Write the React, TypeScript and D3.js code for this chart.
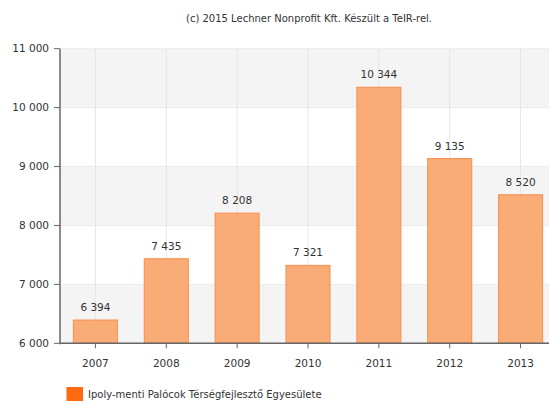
import React from "react";
import * as d3 from "d3";

const years = ["2007", "2008", "2009", "2010", "2011", "2012", "2013"];
const values = [6394, 7435, 8208, 7321, 10344, 9135, 8520];
const yTicks = [6000, 7000, 8000, 9000, 10000, 11000];
const seriesName = "Ipoly-menti Palócok Térségfejlesztő Egyesülete";
const credit = "(c) 2015 Lechner Nonprofit Kft. Készült a TeIR-rel.";

const W = 549;
const H = 401;
const left = 60;
const right = 556;
const top = 48.7;
const bottom = 343.3;
const font = "'DejaVu Sans', Verdana, sans-serif";

const fmt = (v: number) => d3.format(",")(v).replace(/,/g, " ");

export default function App() {
  const x = d3.scaleBand<string>().domain(years).range([left, right]).paddingInner(0.38).paddingOuter(0.19);
  const xc = d3.scalePoint<string>().domain(years).range([left, right]).padding(0.5);
  const y = d3.scaleLinear().domain([6000, 11000]).range([bottom, top]);

  const bands = yTicks.slice(0, -1).map((t, i) => ({ from: t, to: yTicks[i + 1], gray: i % 2 === 0 }));

  return (
    <svg width={W} height={H} style={{ position: "absolute", left: 0, top: 0, background: "#fff" }}>
      <text x={309} y={18.5} dy="0.35em" textAnchor="middle" fontFamily={font} fontSize={10} fill="#333">
        {credit}
      </text>
      {bands.map((b, i) => (
        <rect key={i} x={left} y={y(b.to)} width={right - left} height={y(b.from) - y(b.to)} fill={b.gray ? "#f4f4f4" : "#ffffff"} />
      ))}
      {yTicks.map((t) => (
        <line key={t} x1={left} x2={right} y1={y(t)} y2={y(t)} stroke="#ebebeb" strokeWidth={1} />
      ))}
      {years.map((yr) => (
        <line key={yr} x1={xc(yr)} x2={xc(yr)} y1={top} y2={bottom} stroke="#e6e6e6" strokeWidth={1} />
      ))}
      {years.map((yr, i) => (
        <g key={yr}>
          <rect
            x={x(yr)}
            y={y(values[i])}
            width={x.bandwidth()}
            height={bottom - y(values[i])}
            fill="#f9a86f"
            fillOpacity={0.95}
            stroke="#f7955a"
            strokeWidth={1.2}
          />
          <text x={xc(yr)} y={y(values[i]) - 9} textAnchor="middle" fontFamily={font} fontSize={10.5} fill="#333">
            {fmt(values[i])}
          </text>
        </g>
      ))}
      <line x1={left} x2={left} y1={top} y2={bottom + 1} stroke="#666" strokeWidth={1.5} />
      <line x1={left} x2={right} y1={bottom} y2={bottom} stroke="#666" strokeWidth={1.5} />
      {yTicks.map((t) => (
        <g key={t}>
          <line x1={left - 6} x2={left} y1={y(t)} y2={y(t)} stroke="#666" strokeWidth={1} />
          <text x={49} y={y(t)} dy="0.35em" textAnchor="end" fontFamily={font} fontSize={10.5} fill="#333">
            {fmt(t)}
          </text>
        </g>
      ))}
      {years.map((yr) => (
        <g key={yr}>
          <line x1={xc(yr)} x2={xc(yr)} y1={bottom} y2={bottom + 5} stroke="#666" strokeWidth={1} />
          <text x={xc(yr)} y={363} dy="0.35em" textAnchor="middle" fontFamily={font} fontSize={10.5} fill="#333">
            {yr}
          </text>
        </g>
      ))}
      <rect x={66.5} y={387} width={16.5} height={16} fill="#ff6a10" />
      <text x={88} y={394} dy="0.35em" fontFamily={font} fontSize={10} fill="#333">
        {seriesName}
      </text>
    </svg>
  );
}
